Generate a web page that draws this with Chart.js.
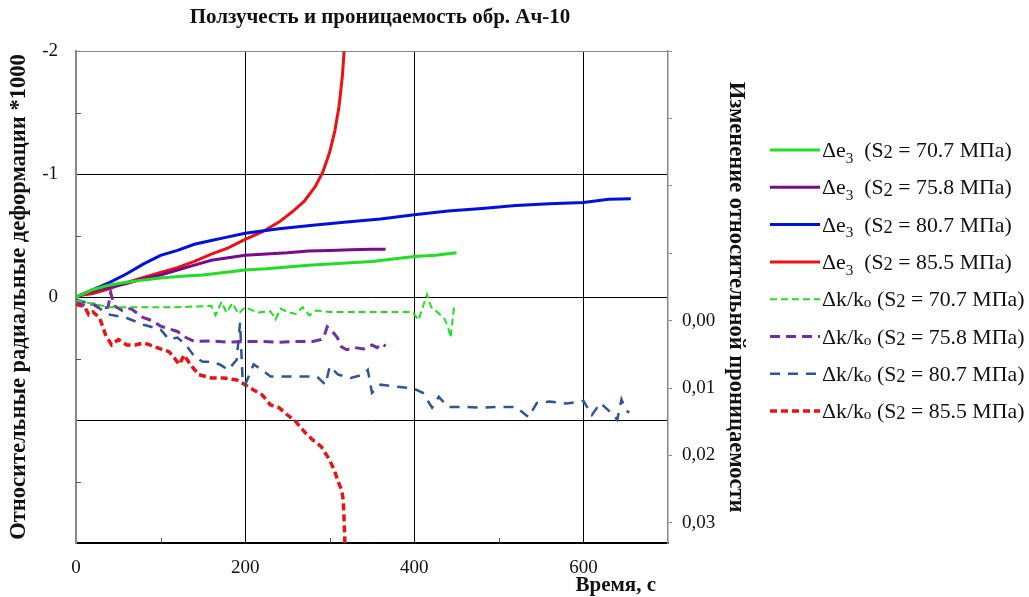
<!DOCTYPE html>
<html>
<head>
<meta charset="utf-8">
<script src="https://cdn.jsdelivr.net/npm/chart.js@4.4.1/dist/chart.umd.min.js"></script>
<style>
  html, body { margin: 0; padding: 0; background: #fff; }
</style>
</head>
<body>
<canvas id="c" width="1029" height="597"></canvas>
<script>
// pressures S2, MPa
const stresses = ['70.7', '75.8', '80.7', '85.5'];

// radial deformation *1000 (left axis), time in s
const tE1 = [0, 10, 20, 35, 50, 60, 80, 100, 125, 150, 175, 200, 225, 250, 275, 300, 325, 350, 375, 400, 425, 450];
const e1  = [0, -0.03, -0.06, -0.09, -0.11, -0.12, -0.14, -0.155, -0.17, -0.18, -0.20, -0.22, -0.23, -0.245, -0.26, -0.27, -0.28, -0.29, -0.31, -0.33, -0.34, -0.36];

const tE2 = [0, 10, 20, 40, 60, 80, 100, 120, 140, 160, 180, 200, 225, 250, 275, 300, 325, 350, 366];
const e2  = [0, -0.03, -0.05, -0.08, -0.11, -0.15, -0.18, -0.22, -0.26, -0.30, -0.32, -0.34, -0.35, -0.36, -0.375, -0.38, -0.385, -0.39, -0.39];

const tE3 = [0, 10, 20, 40, 60, 80, 100, 120, 140, 160, 180, 200, 240, 280, 320, 360, 400, 440, 480, 520, 560, 600, 630, 656];
const e3  = [0, -0.03, -0.06, -0.12, -0.19, -0.27, -0.34, -0.38, -0.43, -0.46, -0.49, -0.52, -0.555, -0.585, -0.61, -0.635, -0.67, -0.70, -0.72, -0.745, -0.76, -0.77, -0.795, -0.80];

const tE4 = [0, 10, 20, 40, 60, 80, 100, 120, 140, 160, 180, 200, 220, 240, 255, 270, 283, 292, 300, 306, 311, 315, 317];
const e4  = [0, -0.02, -0.03, -0.07, -0.12, -0.16, -0.20, -0.24, -0.29, -0.35, -0.40, -0.47, -0.53, -0.61, -0.69, -0.78, -0.90, -1.02, -1.18, -1.35, -1.55, -1.80, -2.0];

// permeability change dk/k0 (right axis)
const tK1 = [0, 20, 40, 80, 120, 160, 165, 172, 178, 185, 192, 200, 215, 230, 236, 242, 250, 260, 268, 276, 284, 300, 340, 380, 398, 405, 410, 415, 420, 428, 436, 440, 443, 447, 450];
const k1  = [-0.003, -0.0025, -0.002, -0.002, -0.002, -0.0022, -0.0008, -0.0028, -0.0012, -0.0026, -0.0010, -0.0020, -0.0012, -0.0014, -0.0002, -0.0018, -0.0013, -0.0010, -0.0020, -0.0008, -0.0015, -0.0013, -0.0013, -0.0013, -0.0013, -0.0001, -0.0020, -0.0039, -0.0020, -0.0012, -0.0002, 0.0010, 0.0025, -0.0020, -0.0022];

const tK2 = [0, 10, 20, 30, 38, 41, 45, 55, 65, 79, 90, 100, 110, 120, 130, 140, 160, 180, 200, 220, 240, 260, 280, 290, 294, 297, 301, 309, 314, 320, 330, 340, 350, 356, 362, 366];
const k2  = [-0.003, -0.0022, -0.0025, -0.0018, -0.002, -0.0042, -0.0022, -0.0015, -0.0018, -0.0005, 0.0, 0.0008, 0.0012, 0.0016, 0.0025, 0.0031, 0.0030, 0.0032, 0.0031, 0.0031, 0.0032, 0.0031, 0.0031, 0.0028, 0.0021, 0.0009, 0.0013, 0.0025, 0.0039, 0.0043, 0.0040, 0.0042, 0.0036, 0.0040, 0.0034, 0.0038];

const tK3 = [0, 20, 40, 60, 80, 100, 110, 120, 130, 141, 150, 160, 170, 180, 190, 194, 197, 200, 210, 220, 230, 250, 270, 285, 295, 300, 310, 325, 340, 345, 350, 360, 380, 400, 410, 421, 429, 440, 460, 480, 500, 520, 535, 545, 560, 580, 600, 610, 620, 633, 640, 645, 650, 654];
const k3  = [-0.0031, -0.0024, -0.0009, -0.0004, 0.0006, 0.0013, 0.0028, 0.0025, 0.0036, 0.0055, 0.0061, 0.0061, 0.0065, 0.0073, 0.0058, 0.0003, 0.0088, 0.0095, 0.0065, 0.0073, 0.0083, 0.0083, 0.0083, 0.0083, 0.0095, 0.0068, 0.0080, 0.0085, 0.0080, 0.0073, 0.0107, 0.0095, 0.0098, 0.0101, 0.0107, 0.0129, 0.0113, 0.0128, 0.0128, 0.0129, 0.0128, 0.0128, 0.0143, 0.0122, 0.0120, 0.0123, 0.0119, 0.0140, 0.0122, 0.0137, 0.0147, 0.0117, 0.0132, 0.0137];

const tK4 = [0, 10, 15, 20, 28, 35, 42, 50, 60, 70, 80, 90, 100, 110, 118, 122, 128, 135, 145, 160, 175, 190, 200, 210, 220, 230, 240, 250, 260, 270, 280, 290, 300, 306, 310, 314, 316, 317, 318];
const k4  = [-0.0024, -0.0021, -0.0009, -0.0013, -0.0004, 0.0021, 0.0036, 0.0028, 0.0036, 0.0036, 0.0033, 0.0037, 0.0042, 0.0046, 0.0058, 0.0065, 0.0051, 0.0065, 0.0080, 0.0085, 0.0085, 0.0088, 0.0095, 0.0103, 0.0110, 0.0125, 0.0129, 0.0140, 0.0150, 0.0165, 0.0177, 0.0187, 0.0207, 0.0224, 0.0239, 0.0251, 0.0266, 0.0296, 0.0330];

const SERIF = '"Liberation Serif", "Times New Roman", serif';

function pts(t, v) {
  return t.map((x, i) => ({ x: x, y: v[i] }));
}

function solid(label, t, v, color) {
  return { label: label, data: pts(t, v), yAxisID: 'y', borderColor: color,
           borderWidth: 3, pointRadius: 0, tension: 0, fill: false };
}
function dashed(label, t, v, color, width, dash) {
  return { label: label, data: pts(t, v), yAxisID: 'y2', borderColor: color,
           borderWidth: width, borderDash: dash, pointRadius: 0, tension: 0, fill: false };
}

const datasets = [
  solid('Δe3 (S2 = ' + stresses[0] + ' МПа)', tE1, e1, '#22dd22'),
  solid('Δe3 (S2 = ' + stresses[1] + ' МПа)', tE2, e2, '#7a0a8c'),
  solid('Δe3 (S2 = ' + stresses[2] + ' МПа)', tE3, e3, '#0010e0'),
  solid('Δe3 (S2 = ' + stresses[3] + ' МПа)', tE4, e4, '#ee1111'),
  dashed('Δk/ko (S2 = ' + stresses[0] + ' МПа)', tK1, k1, '#22dd22', 2, [7, 4]),
  dashed('Δk/ko (S2 = ' + stresses[1] + ' МПа)', tK2, k2, '#7030a0', 3, [10, 6]),
  dashed('Δk/ko (S2 = ' + stresses[2] + ' МПа)', tK3, k3, '#2f5597', 2.5, [10, 8]),
  dashed('Δk/ko (S2 = ' + stresses[3] + ' МПа)', tK4, k4, '#ee1111', 3.5, [7, 4])
];

// small inward ticks, x axis title at the right, legend on the right side
const extras = {
  id: 'extras',
  afterDraw(chart) {
    const ctx = chart.ctx;
    const xs = chart.scales.x, ys = chart.scales.y;
    const area = chart.chartArea;
    ctx.save();
    ctx.strokeStyle = '#555';
    ctx.lineWidth = 1;
    [100, 300, 500].forEach(v => {
      const px = Math.round(xs.getPixelForValue(v)) + 0.5;
      ctx.beginPath(); ctx.moveTo(px, area.bottom); ctx.lineTo(px, area.bottom - 5); ctx.stroke();
    });
    [-1.5, -0.5, 0.5, 1.5].forEach(v => {
      const py = Math.round(ys.getPixelForValue(v)) + 0.5;
      ctx.beginPath(); ctx.moveTo(area.left, py); ctx.lineTo(area.left + 5, py); ctx.stroke();
    });
    ctx.fillStyle = '#111';
    ctx.font = 'bold 21px ' + SERIF;
    ctx.textAlign = 'right';
    ctx.textBaseline = 'middle';
    ctx.fillText('Время, с', 656, 586);
    ctx.restore();

    // legend
    const fs = 21.8;
    chart.data.datasets.forEach((ds, i) => {
      const y = 150 + i * 37.3;
      ctx.save();
      ctx.strokeStyle = ds.borderColor;
      ctx.lineWidth = ds.borderWidth;
      ctx.setLineDash(ds.borderDash || []);
      ctx.beginPath(); ctx.moveTo(770, y); ctx.lineTo(820, y); ctx.stroke();
      ctx.restore();

      const parts = i < 4
        ? [['Δe', 0], ['3', 1], ['  (S', 0], ['2', 2], [' = ' + stresses[i % 4] + ' МПа)', 0]]
        : [['Δk/k', 0], ['o', 3], [' (S', 0], ['2', 2], [' = ' + stresses[i % 4] + ' МПа)', 0]];
      let x = 822;
      ctx.save();
      ctx.fillStyle = '#111';
      ctx.textBaseline = 'alphabetic';
      const base = y + fs * 0.33;
      parts.forEach(([txt, kind]) => {
        let size = fs, dy = 0;
        if (kind === 1) { size = fs * 0.7; dy = fs * 0.25; }
        if (kind === 2) { size = fs * 0.85; dy = fs * 0.05; }
        if (kind === 3) { size = fs * 0.7; dy = fs * 0.05; }
        ctx.font = size + 'px ' + SERIF;
        ctx.fillText(txt, x, base + dy);
        x += ctx.measureText(txt).width;
      });
      ctx.restore();
    });
  }
};

new Chart(document.getElementById('c'), {
  type: 'line',
  data: { datasets: datasets },
  plugins: [extras],
  options: {
    responsive: false,
    animation: false,
    devicePixelRatio: 1,
    layout: { padding: { left: 0, right: 269, top: 0, bottom: 0 } },
    plugins: {
      legend: { display: false },
      tooltip: { enabled: false },
      title: {
        display: true,
        text: 'Ползучесть и проницаемость обр. Ач-10',
        color: '#111',
        font: { family: SERIF, size: 21, weight: 'bold' },
        padding: { top: 5, bottom: 21 }
      }
    },
    scales: {
      x: {
        type: 'linear',
        min: 0, max: 700,
        afterFit: s => { s.height = 54; },
        border: { color: '#000', width: 1.5 },
        grid: {
          drawTicks: false,
          color: c => (c.tick.value % 200 === 0 && c.tick.value > 0 && c.tick.value < 700) ? '#000' : 'rgba(0,0,0,0)',
          lineWidth: 1
        },
        ticks: {
          stepSize: 100,
          padding: 14,
          color: '#111',
          font: { family: SERIF, size: 19 },
          maxRotation: 0,
          callback: v => (v % 200 === 0 ? String(v) : '')
        }
      },
      y: {
        type: 'linear',
        position: 'left',
        min: -2, max: 2,
        reverse: true,
        afterFit: s => { s.width = 76; },
        border: { color: '#888', width: 2 },
        grid: {
          drawTicks: false,
          color: c => {
            const v = c.tick.value;
            if (v === -2) return '#888';
            return Number.isInteger(v) ? '#000' : 'rgba(0,0,0,0)';
          },
          lineWidth: 1
        },
        ticks: {
          stepSize: 0.5,
          padding: 18,
          color: '#111',
          font: { family: SERIF, size: 19 },
          callback: v => (v <= 0 && Number.isInteger(v) ? String(v) : '')
        },
        title: {
          display: true,
          text: 'Относительные радиальные деформации *1000',
          color: '#111',
          font: { family: SERIF, size: 22.5, weight: 'bold' },
          padding: 6
        }
      },
      y2: {
        type: 'linear',
        position: 'right',
        min: -0.04, max: 0.033,
        reverse: true,
        afterFit: s => { s.width = 92; },
        border: { color: '#888', width: 1.5 },
        grid: { drawOnChartArea: false, drawTicks: true, tickLength: 4, tickColor: '#888' },
        ticks: {
          stepSize: 0.01,
          includeBounds: false,
          padding: 10,
          color: '#111',
          font: { family: SERIF, size: 19 },
          callback: v => (v > -0.0001 ? v.toFixed(2).replace('.', ',') : '')
        },
        title: {
          display: true,
          text: 'Изменение относительной проницаемости',
          color: '#111',
          font: { family: SERIF, size: 22.5, weight: 'bold' },
          padding: 11
        }
      }
    }
  }
});
</script>
</body>
</html>
